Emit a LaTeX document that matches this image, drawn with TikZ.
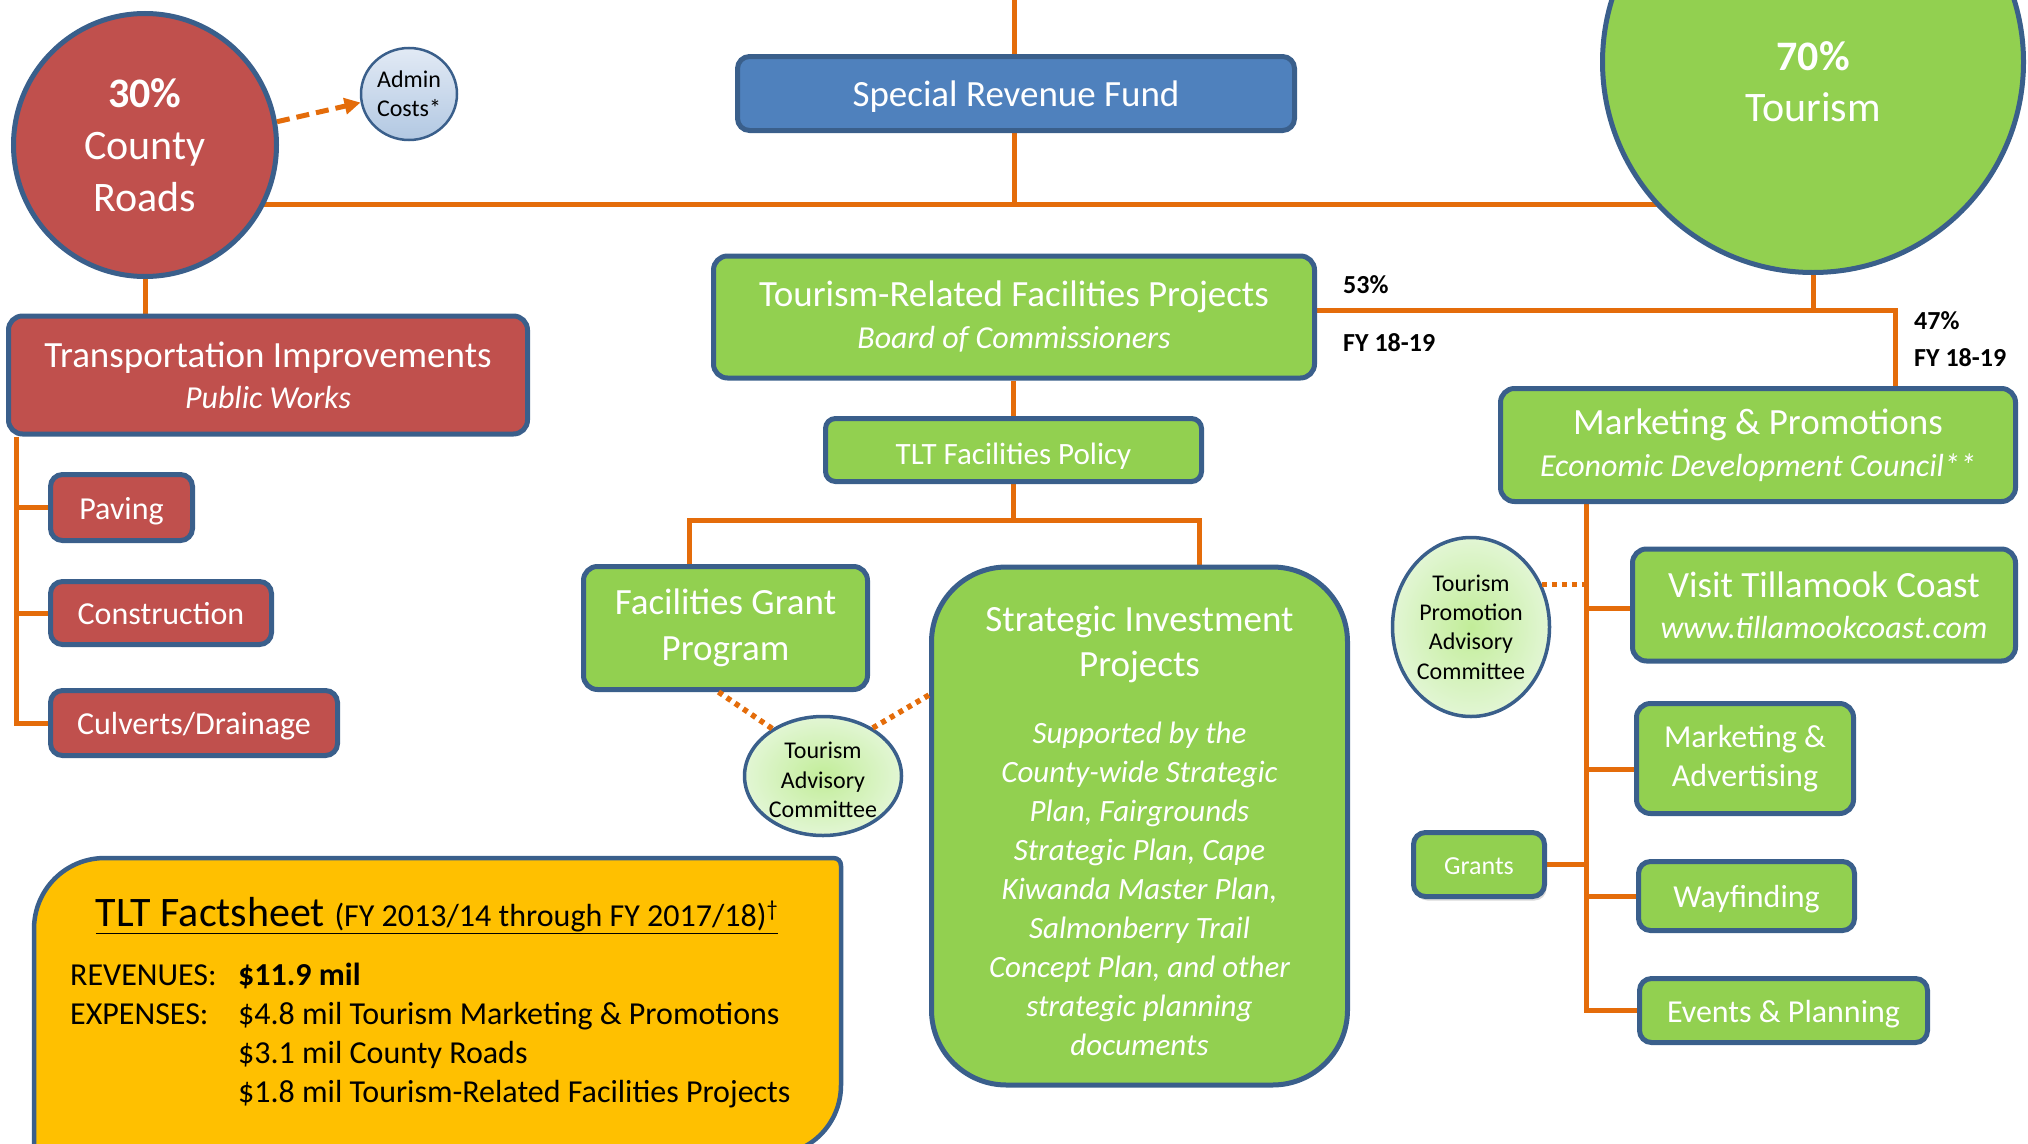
\documentclass[tikz,border=0pt]{standalone}
\usepackage{fontspec}
\setmainfont{Carlito}
\usetikzlibrary{arrows.meta,calc,backgrounds,shapes.geometric,shadows}
\definecolor{cred}{HTML}{C0504D}
\definecolor{cbord}{HTML}{3A5F8B}
\definecolor{cgreen}{HTML}{92D050}
\definecolor{cblue}{HTML}{4F81BD}
\definecolor{corange}{HTML}{E46C0A}
\definecolor{cyellow}{HTML}{FFC000}
\definecolor{clgin}{HTML}{C2ED99}
\definecolor{clgout}{HTML}{E2F6D4}
\definecolor{clbtop}{HTML}{E2EAF5}
\definecolor{clbbot}{HTML}{B2C8E2}
\newcommand\fsbig{\fontsize{37}{44}\selectfont}
\newcommand\fsmid{\fontsize{32}{39}\selectfont}
\newcommand\fssmall{\fontsize{24}{29.4}\selectfont}
\newcommand\fsital{\itshape\fontsize{32}{39}\selectfont}
\begin{document}
\begin{tikzpicture}[x=1pt,y=-1pt,
  rbox/.style={draw=cbord, line width=5pt, rounded corners=14pt, text=white, align=center, inner sep=0pt},
  redbox/.style={rbox, fill=cred},
  greenbox/.style={rbox, fill=cgreen},
  bluebox/.style={rbox, fill=cblue},
  lineA/.style={font=\fsbig, text height=31.5pt, text depth=5.5pt},
  lineB/.style={font=\fsmid, text height=27.5pt, text depth=4.5pt},
  lineC/.style={font=\fontsize{31}{38}\selectfont, text height=29.5pt, text depth=1.5pt},
  lineD/.style={font=\fontsize{26}{31}\selectfont, text height=22.5pt, text depth=3.5pt},
  conn/.style={draw=corange, line width=5pt},
  dotconn/.style={draw=corange, line width=5.5pt, dash pattern=on 5pt off 5pt},
  adv/.style={ellipse, draw=cbord, line width=3.5pt, inner color=clgin, outer color=clgout, align=center, inner sep=0pt, font=\fssmall},
  lbl/.style={font=\bfseries\fontsize{26}{30}\selectfont, inner sep=0pt, anchor=west}
]
\useasboundingbox (0,0) rectangle (2028,1143);
\clip (0,0) rectangle (2028,1143);

% coordinates
\coordinate (topc) at (1014,0);
\coordinate (j1) at (1014,204);
\coordinate (j2) at (1895,310);
\coordinate (j3) at (1013,520);
\coordinate (fl) at (689,520);
\coordinate (fr) at (1199,520);
\coordinate (lx) at (16,435);
\coordinate (vx) at (1586,501);

% circles
\node[circle, draw=cbord, line width=5pt, fill=cred, minimum size=263pt, text=white, align=center, inner sep=0pt,
  font=\fontsize{42}{52}\selectfont] (county) at (145,145) {\textbf{30\%}\\County\\Roads};
\node[ellipse, draw=cbord, line width=2.5pt, top color=clbtop, bottom color=clbbot, minimum width=96pt, minimum height=92pt,
  align=center, inner sep=0pt, font=\fssmall] (admin) at (409,94) {Admin\\Costs*};
\node[circle, draw=cbord, line width=5pt, fill=cgreen, minimum size=421pt] (tour) at (1813,62) {};
\node[text=white, align=center, inner sep=0pt, font=\fontsize{42}{51}\selectfont] (tourtxt) at (1813,82) {\textbf{70\%}\\Tourism};

% center column
\node[bluebox, lineA, rounded corners=12pt, minimum width=557pt, minimum height=74pt] (srf) at (1016,93.5) {Special Revenue Fund};
\node[greenbox, minimum width=601pt, minimum height=122pt, font=\fontsize{37}{42}\selectfont] (trf) at (1014,317)
  {Tourism-Related Facilities Projects\\{\fsital Board of Commissioners}};
\node[greenbox, lineC, rounded corners=10pt, minimum width=376pt, minimum height=63pt] (policy) at (1013.5,450) {TLT Facilities Policy};
\node[greenbox, minimum width=284pt, minimum height=123pt, font=\fontsize{37}{46}\selectfont] (fgp) at (725.5,628) {Facilities Grant\\Program};
\node[greenbox, rounded corners=75pt, minimum width=416pt, minimum height=518pt] (sip) at (1139.5,826) {};
\node[text=white, align=center, inner sep=0pt, font=\fontsize{31}{39}\selectfont] (siptxt) at (1139.5,831)
  {{\fontsize{37}{45}\selectfont Strategic Investment}\\[6pt]
   {\fontsize{37}{45}\selectfont Projects}\\[28pt]
   {\itshape Supported by the}\\
   {\itshape County-wide Strategic}\\
   {\itshape Plan, Fairgrounds}\\
   {\itshape Strategic Plan, Cape}\\
   {\itshape Kiwanda Master Plan,}\\
   {\itshape Salmonberry Trail}\\
   {\itshape Concept Plan, and other}\\
   {\itshape strategic planning}\\
   {\itshape documents}};
\node[adv, minimum width=157pt, minimum height=119pt] (tac) at (823,776) {};
\node[align=center, inner sep=0pt, font=\fontsize{24}{29.6}\selectfont] (tactxt) at (823,780) {Tourism\\Advisory\\Committee};

% left column
\node[redbox, minimum width=519pt, minimum height=118pt, font=\fontsize{37}{41}\selectfont] (trans) at (268,375)
  {Transportation Improvements\\{\fsital Public Works}};
\node[redbox, lineB, rounded corners=12pt, minimum width=142pt, minimum height=66pt] (pav) at (121.5,507.5) {Paving};
\node[redbox, lineB, rounded corners=12pt, minimum width=221pt, minimum height=63pt] (cons) at (161,613) {Construction};
\node[redbox, lineB, rounded corners=12pt, minimum width=287pt, minimum height=65pt] (culv) at (194,723) {Culverts/Drainage};

% right column
\node[greenbox, minimum width=515pt, minimum height=113pt, font=\fontsize{37}{42}\selectfont] (mp) at (1758,445)
  {Marketing \& Promotions\\{\fsital Economic Development Council**}};
\node[adv, minimum width=157pt, minimum height=179pt] (tpac) at (1471,627) {Tourism\\Promotion\\Advisory\\Committee};
\node[greenbox, minimum width=383pt, minimum height=112pt, font=\fontsize{37}{41}\selectfont] (vtc) at (1824,605)
  {Visit Tillamook Coast\\{\fsital www.tillamookcoast.com}};
\node[greenbox, minimum width=217pt, minimum height=110pt, font=\fsmid] (madv) at (1745,758.5) {Marketing \&\\Advertising};
\node[greenbox, lineD, rounded corners=12pt, minimum width=131pt, minimum height=64pt,
  drop shadow={opacity=0.3, shadow xshift=2pt, shadow yshift=-4pt}] (grants) at (1479,864.5) {Grants};
\node[greenbox, lineB, rounded corners=12pt, minimum width=216pt, minimum height=69pt] (way) at (1746.5,896) {Wayfinding};
\node[greenbox, lineB, rounded corners=12pt, minimum width=288pt, minimum height=64pt] (events) at (1783.5,1010.5) {Events \& Planning};

% labels
\node[lbl] (l53) at (1343,285) {53\%};
\node[lbl] (l53fy) at (1343,343) {FY 18-19};
\node[lbl] (l47) at (1914,321) {47\%};
\node[lbl] (l47fy) at (1914,358) {FY 18-19};

% factsheet
\draw[draw=cbord, line width=4.5pt, fill=cyellow] (34,1160) -- (34,929)
  .. controls (34,890) and (65,858) .. (105,858) -- (833,858)
  .. controls (838,858) and (841,861) .. (841,866) -- (841,1085)
  .. controls (841,1124) and (810,1155) .. (771,1155) -- (34,1160) -- cycle;
\node[anchor=base, inner sep=0pt] (fttitle) at (437,926)
  {\underline{\fontsize{42}{50}\selectfont TLT Factsheet \fontsize{32}{40}\selectfont(FY 2013/14 through FY 2017/18)\textsuperscript{†}}};
\node[anchor=north west, inner sep=0pt, font=\fontsize{32}{39}\selectfont] (ftbody) at (70,958)
  {\begin{tabular}{@{}p{168pt}@{}l@{}}REVENUES: & \textbf{\$11.9 mil}\\
   EXPENSES: & \$4.8 mil Tourism Marketing \& Promotions\\
   & \$3.1 mil County Roads\\
   & \$1.8 mil Tourism-Related Facilities Projects\end{tabular}};

% connectors
\begin{pgfonlayer}{background}
\draw[conn] (topc) -- (topc |- srf.north);
\draw[conn] (srf.south -| j1) -- (j1);
\draw[conn] (county.center |- j1) -- (tour.center |- j1);
\draw[conn] (county.south) -- (county.south |- trans.north);
\draw[conn] (tour.south) -- (tour.south |- j2);
\draw[conn] (trf.east |- j2) -- (j2) -- (j2 |- mp.north);
\draw[conn] (trf.south -| j3) -- (j3 |- policy.north);
\draw[conn] (policy.south -| j3) -- (j3);
\draw[conn] (fl |- fgp.north) -- (fl) -- (fr) -- (fr |- sip.north);
\draw[conn] (lx |- trans.south) |- (culv.west);
\draw[conn] (lx |- pav.west) -- (pav.west);
\draw[conn] (lx |- cons.west) -- (cons.west);
\draw[conn] (vx |- mp.south) |- (events.west);
\draw[conn] ($(vtc.west)+(0,3)$) -- ($(vtc.west -| vx)+(0,3)$);
\draw[conn] ($(madv.west)+(0,11)$) -- ($(madv.west -| vx)+(0,11)$);
\draw[conn] (way.west) -- (way.west -| vx);
\draw[conn] (grants.east) -- (grants.east -| vx);
\end{pgfonlayer}
\draw[dotconn] (tac.137) -- ($(fgp.south)+(-7,0)$);
\draw[dotconn] (tac.44) -- ($(sip.west)+(0,-131)$);
\draw[dotconn] (tpac.31) -- (tpac.31 -| vx);
\draw[draw=corange, line width=5pt, dash pattern=on 13pt off 7pt, -{Triangle[length=16pt,width=16pt]}] (county.10) -- (admin.190);
\end{tikzpicture}
\end{document}
